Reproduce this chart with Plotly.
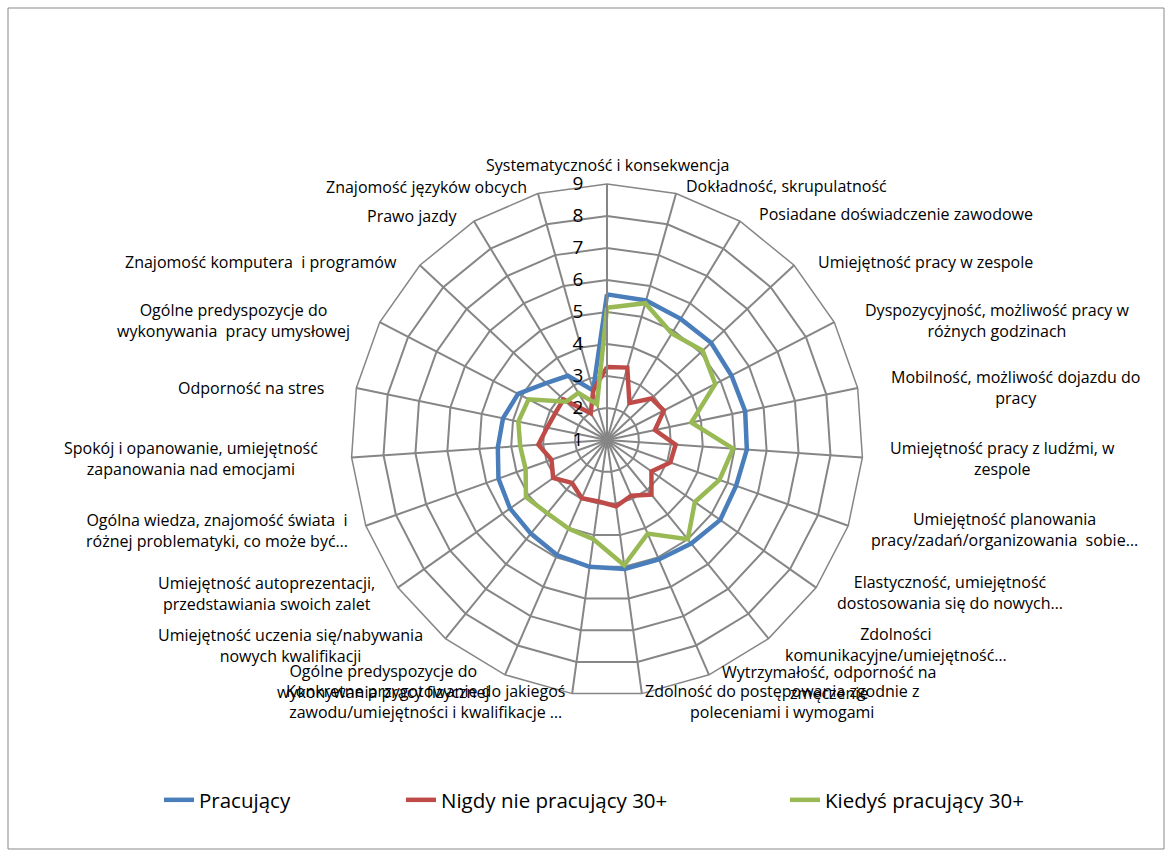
import plotly.graph_objects as go

categories = [
    "Systematyczność i konsekwencja",
    "Dokładność, skrupulatność",
    "Posiadane doświadczenie zawodowe",
    "Umiejętność pracy w zespole",
    "Dyspozycyjność, możliwość pracy w<br>różnych godzinach",
    "Mobilność, możliwość dojazdu do<br>pracy",
    "Umiejętność pracy z ludźmi, w<br>zespole",
    "Umiejętność planowania<br>pracy/zadań/organizowania  sobie…",
    "Elastyczność, umiejętność<br>dostosowania się do nowych…",
    "Zdolności<br>komunikacyjne/umiejętność…",
    "Wytrzymałość, odporność na<br>zmęczenie",
    "Zdolność do postępowania zgodnie z<br>poleceniami i wymogami",
    "Konkretne przygotowanie do jakiegoś<br>zawodu/umiejętności i kwalifikacje …",
    "Ogólne predyspozycje do<br>wykonywania pracy fizycznej",
    "Umiejętność uczenia się/nabywania<br>nowych kwalifikacji",
    "Umiejętność autoprezentacji,<br>przedstawiania swoich zalet",
    "Ogólna wiedza, znajomość świata  i<br>różnej problematyki, co może być…",
    "Spokój i opanowanie, umiejętność<br>zapanowania nad emocjami",
    "Odporność na stres",
    "Ogólne predyspozycje do<br>wykonywania  pracy umysłowej",
    "Znajomość komputera  i programów",
    "Prawo jazdy",
    "Znajomość języków obcych",
]

pracujacy = [5.55, 5.53, 5.43, 5.45, 5.38, 5.41, 5.38, 5.28, 5.33, 5.17, 5.07, 5.07,
             5.0, 4.92, 4.77, 4.71, 4.6, 4.42, 4.32, 4.13, 3.6, 3.35, 2.61]
nigdy = [3.28, 3.35, 2.35, 2.9, 3.0, 2.53, 3.15, 3.1, 2.7, 3.2, 2.9, 3.09,
         2.94, 2.98, 2.73, 3.06, 2.84, 3.15, 2.91, 2.82, 2.86, 1.98, 2.6]
kiedys = [5.13, 5.44, 4.9, 5.09, 4.81, 3.69, 4.95, 4.73, 4.36, 5.0, 4.19, 4.95,
          4.13, 4.02, 3.95, 4.1, 3.7, 3.72, 3.83, 3.76, 2.75, 2.72, 2.16]

series = [
    ("Pracujący", pracujacy, "#4A7EBB", "legend"),
    ("Nigdy nie pracujący 30+", nigdy, "#BE4B48", "legend2"),
    ("Kiedyś pracujący 30+", kiedys, "#98B954", "legend3"),
]

# Layout: pixel centres of the category captions (Excel places them outside the web)
label_pos = [
    (607, 165), (786, 186), (896, 214), (925, 262), (997, 320), (1015, 388),
    (1002, 458), (1004, 529), (950, 592), (896, 644), (829, 682), (782, 701),
    (425, 701), (383, 681), (290, 645), (266, 593), (217, 530), (191, 458),
    (251, 388), (233, 320), (261, 262), (412, 216), (426, 187),
]

W, H = 1173, 859
cx, cy, R = 607, 440, 256

fig = go.Figure()
for name, vals, color, leg in series:
    fig.add_trace(go.Scatterpolar(
        r=vals + vals[:1],
        theta=categories + categories[:1],
        mode="lines",
        name=name,
        line=dict(color=color, width=4.5),
        legend=leg,
        showlegend=True,
    ))

font_family = "Open Sans"
grid_col = "#868686"

def leg(xpx):
    return dict(orientation="h", x=xpx / W, y=1 - 800 / H, xanchor="left", yanchor="middle",
                font=dict(size=20.5, family=font_family, color="black"),
                bgcolor="rgba(0,0,0,0)")

annotations = [
    dict(text=cat, x=px / W, y=1 - py / H, xref="paper", yref="paper",
         xanchor="center", yanchor="middle", align="center", showarrow=False,
         font=dict(size=16, family=font_family, color="black"))
    for cat, (px, py) in zip(categories, label_pos)
]

fig.update_layout(
    width=W, height=H,
    showlegend=True,
    margin=dict(l=0, r=0, t=0, b=0),
    paper_bgcolor="white",
    plot_bgcolor="white",
    font=dict(family=font_family, color="black"),
    polar=dict(
        domain=dict(x=[(cx - R) / W, (cx + R) / W], y=[1 - (cy + R) / H, 1 - (cy - R) / H]),
        bgcolor="white",
        gridshape="linear",
        angularaxis=dict(
            direction="clockwise", rotation=90, type="category",
            categoryorder="array", categoryarray=categories,
            showline=True, linecolor=grid_col, linewidth=1.5,
            gridcolor=grid_col, gridwidth=1.5,
            ticks="", showticklabels=False,
        ),
        radialaxis=dict(
            range=[1, 9], dtick=1, tick0=1, angle=90, tickangle=90,
            showline=True, linecolor=grid_col, linewidth=2,
            gridcolor=grid_col, gridwidth=1.5,
            ticks="outside", ticklen=16, tickcolor="rgba(0,0,0,0)",
            side="counterclockwise",
            tickfont=dict(size=19, family=font_family, color="black"),
        ),
    ),
    legend=leg(159),
    legend2=leg(401),
    legend3=leg(785),
    annotations=annotations,
    shapes=[dict(type="rect", xref="paper", yref="paper",
                 x0=8 / W, x1=1164 / W, y0=1 - 849 / H, y1=1 - 8 / H,
                 line=dict(color="#898989", width=1))],
)

fig.write_html("out.html", config={"displayModeBar": False},
               post_script="document.body.style.margin='0';")
